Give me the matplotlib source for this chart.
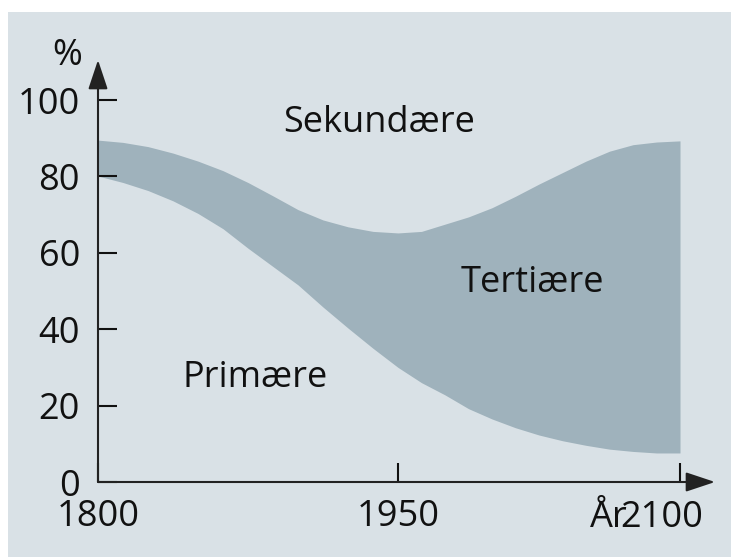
import numpy as np
import matplotlib
matplotlib.use('Agg')
import matplotlib.pyplot as plt
from matplotlib.patches import Rectangle

plt.rcParams['font.family'] = ['Open Sans', 'DejaVu Sans']

# values (share of workforce, %)
years = [1800, 1812.5, 1825, 1837.5, 1850, 1862.5, 1875, 1887.5, 1900, 1912.5, 1925, 1937.5,
         1950, 1962.5, 1975, 1987.5, 2000, 2012.5, 2025, 2037.5, 2050, 2062.5, 2075, 2087.5, 2100]
# upper edge of the primary sector
primary = [80.1, 78.4, 76.3, 73.6, 70.3, 66.3, 61.2, 56.4, 51.6, 45.8, 40.3, 35.0,
           30.0, 26.0, 22.8, 19.2, 16.5, 14.2, 12.3, 10.8, 9.6, 8.6, 8.0, 7.6, 7.6]
# upper edge of primary + tertiary (the rest is secondary)
prim_tert = [89.5, 88.9, 87.8, 86.1, 84.0, 81.5, 78.4, 74.9, 71.3, 68.6, 66.8, 65.6,
             65.2, 65.6, 67.5, 69.4, 71.8, 74.8, 78.0, 81.0, 84.0, 86.6, 88.3, 89.0, 89.3]

y_ticks = [0, 20, 40, 60, 80, 100]
x_ticks = [1800, 1950, 2100]
x_tick_labels = ['1800', '1950', '2100']
sector_names = ['Primære', 'Tertiære', 'Sekundære']

bg = '#d9e1e6'
band = '#9fb2bc'
ink = '#111111'
W, H = 731, 557

# the time axis in the original is slightly compressed after 1950
knot_years = [1700, 1800, 1950, 2100, 2300]
knot_px = [-200, 0, 300, 582, 582 + 200 * 1.88]


def fwd(x):
    return np.interp(x, knot_years, knot_px)


def inv(p):
    return np.interp(p, knot_px, knot_years)


fig = plt.figure(figsize=(W / 100, H / 100), dpi=100, facecolor='white')
fig.patches.append(Rectangle((8 / W, 0), 1 - 8 / W, 1 - 12 / H, transform=fig.transFigure,
                             facecolor=bg, edgecolor='none', zorder=-10))

ax = fig.add_axes([98 / W, (H - 482) / H, (715 - 98) / W, (482 - 60) / H])
ax.set_facecolor('none')
ax.set_xscale('function', functions=(fwd, inv))
ax.set_xlim(1800, inv(617))
ax.set_ylim(0, (482 - 60) / 3.82)

ax.fill_between(years, primary, prim_tert, color=band, lw=0, zorder=1)

for s in ax.spines.values():
    s.set_visible(False)

arrow = dict(arrowstyle='-|>,head_length=0.9,head_width=0.3', color='#222222', lw=1.5,
             shrinkA=0, shrinkB=0, mutation_scale=20)
ax.annotate('', xy=(0, 1), xytext=(0, 0), xycoords='axes fraction', arrowprops=arrow)
ax.annotate('', xy=(1, 0), xytext=(0, 0), xycoords='axes fraction', arrowprops=arrow)

ax.set_yticks(y_ticks)
ax.set_yticklabels([str(v) for v in y_ticks])
ax.set_xticks(x_ticks)
ax.set_xticklabels(x_tick_labels[:2] + [''])
ax.minorticks_off()
ax.tick_params(axis='both', direction='in', length=14, width=1.5, color='#111111',
               labelsize=26, labelcolor=ink)
ax.tick_params(axis='y', pad=13)
ax.tick_params(axis='x', pad=12)

ax.annotate(x_tick_labels[2], xy=(2100, 0), xycoords='data', xytext=(-18, -45),
            textcoords='offset pixels', ha='center', va='baseline', fontsize=26, color=ink)
ax.annotate('År', xy=(2100, 0), xycoords='data', xytext=(-71, -45),
            textcoords='offset pixels', ha='center', va='baseline', fontsize=26, color=ink)
ax.annotate('%', xy=(0, 1), xycoords='axes fraction', xytext=(-31, -5),
            textcoords='offset pixels', ha='center', va='baseline', fontsize=26, color=ink)

ax.text(1878.5, 24.9, sector_names[0], ha='center', va='baseline', fontsize=26, color=ink)
ax.text(2021.3, 49.7, sector_names[1], ha='center', va='baseline', fontsize=26, color=ink)
ax.text(1940.75, 91.6, sector_names[2], ha='center', va='baseline', fontsize=26, color=ink)

fig.savefig('out.png', dpi=100, facecolor='white')
